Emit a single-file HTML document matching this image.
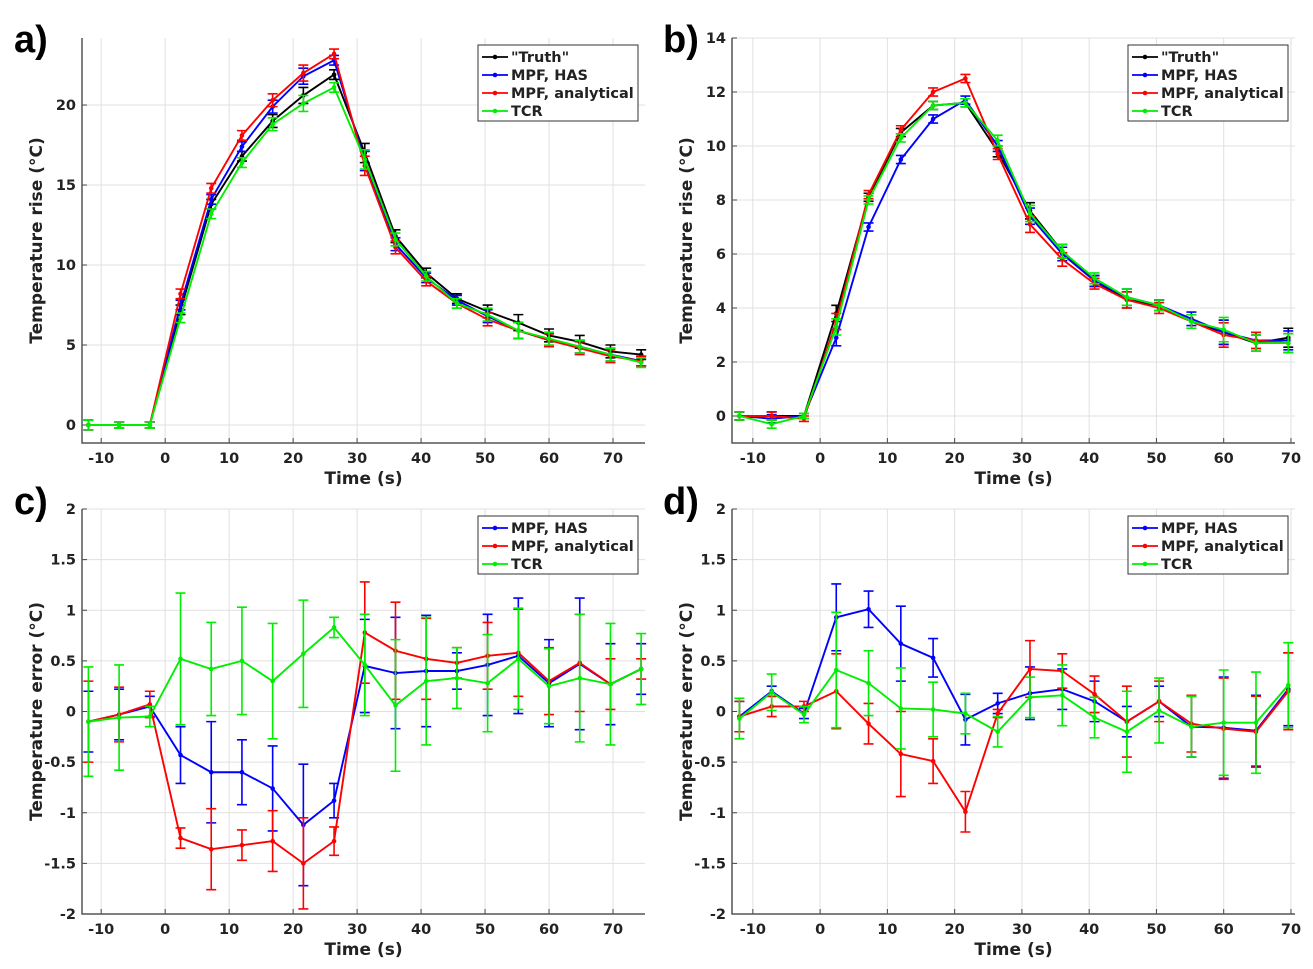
<!DOCTYPE html>
<html><head><meta charset="utf-8"><style>
body{margin:0;background:#fff;}
svg{display:block;font-family:"DejaVu Sans","Liberation Sans",sans-serif;font-weight:bold;}
</style></head><body>
<svg id="fig" width="1313" height="969" xmlns="http://www.w3.org/2000/svg"></svg>
<script>
const tA = [-12,-7.2,-2.4,2.4,7.2,12,16.8,21.6,26.4,31.2,36,40.8,45.6,50.4,55.2,60,64.8,69.6,74.4];
const tB = [-12,-7.2,-2.4,2.4,7.2,12,16.8,21.6,26.4,31.2,36,40.8,45.6,50.4,55.2,60,64.8,69.6];
const xTicksA = [-10,0,10,20,30,40,50,60,70];
const yTicksA = [0,5,10,15,20];
const yTicksB = [0,2,4,6,8,10,12,14];
const yTicksC = [-2,-1.5,-1,-0.5,0,0.5,1,1.5,2];
const yLabelsC = ["-2","-1.5","-1","-0.5","0","0.5","1","1.5","2"];

const aTruth = [0,0,0,7.2,13.8,16.8,19.0,20.6,21.9,17.0,11.8,9.5,7.9,7.1,6.4,5.6,5.2,4.6,4.4];
const aHAS   = [0,0,0,7.5,14.1,17.4,19.9,21.8,22.8,16.5,11.3,9.2,7.8,6.8,5.9,5.3,4.9,4.4,4.0];
const aAna   = [0,0,0,8.2,14.8,18.1,20.3,22.0,23.2,16.2,11.1,9.0,7.6,6.6,5.9,5.3,4.8,4.3,4.0];
const aTCR   = [0,0,0,6.7,13.2,16.4,18.8,20.1,21.1,16.6,11.6,9.3,7.6,6.9,5.9,5.4,4.9,4.4,3.9];
const aErr   = [0.3,0.2,0.2,0.3,0.3,0.3,0.4,0.5,0.3,0.6,0.4,0.3,0.3,0.4,0.5,0.4,0.4,0.4,0.3];

const bTruth = [0,0,0,3.8,8.1,10.5,11.5,11.6,9.8,7.6,6.1,5.0,4.3,4.1,3.5,3.1,2.7,2.9];
const bHAS   = [0,-0.1,0,2.9,7.0,9.5,11.0,11.7,10.0,7.4,6.0,5.0,4.4,4.1,3.6,3.1,2.8,2.8];
const bAna   = [0,0,-0.1,3.5,8.2,10.6,12.0,12.5,9.7,7.1,5.8,4.9,4.3,4.0,3.5,3.0,2.8,2.7];
const bTCR   = [0,-0.3,0,3.3,8.0,10.3,11.5,11.6,10.2,7.5,6.1,5.1,4.4,4.1,3.5,3.2,2.7,2.7];
const bErr   = [0.15,0.15,0.1,0.3,0.15,0.15,0.15,0.15,0.2,0.3,0.25,0.2,0.3,0.2,0.25,0.45,0.3,0.35];

const cHAS = [-0.1,-0.03,0.05,-0.43,-0.6,-0.6,-0.76,-1.12,-0.88,0.45,0.38,0.4,0.4,0.46,0.55,0.28,0.47,0.27,0.42];
const cHASe = [0.3,0.25,0.1,0.28,0.5,0.32,0.42,0.6,0.17,0.46,0.55,0.55,0.18,0.5,0.57,0.43,0.65,0.4,0.25];
const cAna = [-0.1,-0.03,0.07,-1.25,-1.36,-1.32,-1.28,-1.5,-1.28,0.78,0.6,0.52,0.48,0.55,0.58,0.3,0.48,0.27,0.42];
const cAnae = [0.4,0.27,0.13,0.1,0.4,0.15,0.3,0.45,0.14,0.5,0.48,0.4,0.15,0.33,0.43,0.33,0.48,0.25,0.1];
const cTCR = [-0.1,-0.06,-0.05,0.52,0.42,0.5,0.3,0.57,0.83,0.46,0.06,0.3,0.33,0.28,0.52,0.25,0.33,0.27,0.42];
const cTCRe = [0.54,0.52,0.1,0.65,0.46,0.53,0.57,0.53,0.1,0.5,0.65,0.63,0.3,0.48,0.5,0.37,0.63,0.6,0.35];

const dHAS = [-0.05,0.2,-0.02,0.93,1.01,0.67,0.53,-0.08,0.08,0.18,0.22,0.1,-0.1,0.1,-0.15,-0.16,-0.19,0.22];
const dHASe = [0.15,0.05,0.05,0.33,0.18,0.37,0.19,0.25,0.1,0.26,0.2,0.2,0.15,0.15,0.3,0.5,0.35,0.36];
const dAna = [-0.05,0.05,0.05,0.2,-0.12,-0.42,-0.49,-0.99,-0.02,0.42,0.4,0.17,-0.1,0.1,-0.12,-0.17,-0.2,0.2];
const dAnae = [0.15,0.1,0.05,0.37,0.2,0.42,0.22,0.2,0.04,0.28,0.17,0.18,0.35,0.2,0.28,0.5,0.35,0.38];
const dTCR = [-0.07,0.19,-0.03,0.41,0.28,0.03,0.02,-0.02,-0.2,0.14,0.16,-0.06,-0.2,0.01,-0.15,-0.11,-0.11,0.26];
const dTCRe = [0.2,0.18,0.08,0.57,0.32,0.4,0.27,0.2,0.15,0.2,0.3,0.2,0.4,0.32,0.3,0.52,0.5,0.42];

const NS="http://www.w3.org/2000/svg";
const svg=document.getElementById('fig');
function mk(tag,attrs,parent,text){const e=document.createElementNS(NS,tag);for(const k in attrs)e.setAttribute(k,attrs[k]);if(text!==undefined)e.textContent=text;(parent||svg).appendChild(e);return e;}

function panel(o){
  const g=mk('g',{});
  
  
  const sx=v=>o.x0+(v-o.xmin)/(o.xmax-o.xmin)*(o.x1-o.x0);
  const sy=v=>o.y1-(v-o.ymin)/(o.ymax-o.ymin)*(o.y1-o.y0);
  xTicksA.forEach(t=>{const x=sx(t);if(x<o.x0||x>o.x1)return;
    const l=mk('line',{x1:x,x2:x,y1:o.y0,y2:o.y1,stroke:'#e0e0e0','stroke-width':1},g);
    
    mk('line',{x1:x,x2:x,y1:o.y1,y2:o.y1-5,stroke:'#444'},g);
    const tx=mk('text',{x:x,y:o.y1+20,'text-anchor':'middle','font-size':14.5,fill:'#222'},g,String(t));
    
  });
  o.yt.forEach((t,i)=>{const y=sy(t);
    const l=mk('line',{x1:o.x0,x2:o.x1,y1:y,y2:y,stroke:'#e0e0e0','stroke-width':1},g);
    
    mk('line',{x1:o.x0,x2:o.x0+5,y1:y,y2:y,stroke:'#444'},g);
    const tx=mk('text',{x:o.x0-6,y:y+5,'text-anchor':'end','font-size':14.5,fill:'#222'},g,o.yl?o.yl[i]:String(t));
    
  });
  const ax=mk('path',{d:`M${o.x0},${o.y0}V${o.y1}H${o.x1}`,fill:'none',stroke:'#555','stroke-width':1.5},g);
  
  const xl=mk('text',{x:(o.x0+o.x1)/2,y:o.y1+41,'text-anchor':'middle','font-size':17,fill:'#222'},g,'Time (s)');
  
  const cy=(o.y0+o.y1)/2, yx=o.x0-40;
  const yl=mk('text',{x:yx,y:cy,'text-anchor':'middle','font-size':17,fill:'#222',transform:`rotate(-90 ${yx} ${cy})`},g,o.ylabel);
  
  const lt=mk('text',{x:o.lx,y:o.ly,'font-size':38,fill:'#000','font-family':'Liberation Sans, sans-serif'},g,o.id+')');
  
  o.series.forEach(s=>{
    const sg=mk('g',{},g);
    
    
    s.v.forEach((v,i)=>{const x=sx(o.t[i]),e=s.e[i];
      const eb=mk('path',{d:`M${x},${sy(v-e)}V${sy(v+e)}M${x-5},${sy(v-e)}h10M${x-5},${sy(v+e)}h10`,stroke:s.c,'stroke-width':1.6,fill:'none'},sg);
      
    });
    const pl=mk('polyline',{points:s.v.map((v,i)=>sx(o.t[i])+','+sy(v)).join(' '),fill:'none',stroke:s.c,'stroke-width':1.9},sg);
    
    s.v.forEach((v,i)=>{const m=mk('circle',{cx:sx(o.t[i]),cy:sy(v),r:2.3,fill:s.c},sg);
      });
  });
  const n=o.series.length, lw=160, lh=18*n+4;
  const lg=mk('g',{},g);
  
  mk('rect',{x:o.x1-lw-7,y:o.y0+7,width:lw,height:lh,fill:'#fff',stroke:'#333','stroke-width':1},lg);
  o.series.forEach((s,i)=>{const y=o.y0+7+12+18*i;const lx=o.x1-lw-3;
    const le=mk('g',{},lg);
    mk('line',{x1:lx,x2:lx+26,y1:y,y2:y,stroke:s.c,'stroke-width':1.8},le);
    mk('circle',{cx:lx+13,cy:y,r:2.3,fill:s.c},le);
    mk('text',{x:lx+29,y:y+5,'font-size':14.5,fill:'#222'},le,s.name);});
}
const A={x0:82,x1:645,xmin:-13,xmax:75};
const B={x0:732,x1:1295,xmin:-13.1,xmax:70.6};
panel(Object.assign({id:'a',y0:38,y1:443,ymin:-1.125,ymax:24.19,yt:yTicksA,t:tA,ylabel:'Temperature rise (°C)',lx:14,ly:52,
 series:[{name:'"Truth"',c:'#000',v:aTruth,e:aErr},{name:'MPF, HAS',c:'#0000ff',v:aHAS,e:aErr},{name:'MPF, analytical',c:'#ff0000',v:aAna,e:aErr},{name:'TCR',c:'#00ee00',v:aTCR,e:aErr}]},A));
panel(Object.assign({id:'b',y0:38,y1:443,ymin:-1,ymax:14,yt:yTicksB,t:tB,ylabel:'Temperature rise (°C)',lx:663,ly:52,
 series:[{name:'"Truth"',c:'#000',v:bTruth,e:bErr},{name:'MPF, HAS',c:'#0000ff',v:bHAS,e:bErr},{name:'MPF, analytical',c:'#ff0000',v:bAna,e:bErr},{name:'TCR',c:'#00ee00',v:bTCR,e:bErr}]},B));
panel(Object.assign({id:'c',y0:509,y1:914,ymin:-2,ymax:2,yt:yTicksC,yl:yLabelsC,t:tA,ylabel:'Temperature error (°C)',lx:14,ly:514,
 series:[{name:'MPF, HAS',c:'#0000ff',v:cHAS,e:cHASe},{name:'MPF, analytical',c:'#ff0000',v:cAna,e:cAnae},{name:'TCR',c:'#00ee00',v:cTCR,e:cTCRe}]},A));
panel(Object.assign({id:'d',y0:509,y1:914,ymin:-2,ymax:2,yt:yTicksC,yl:yLabelsC,t:tB,ylabel:'Temperature error (°C)',lx:663,ly:514,
 series:[{name:'MPF, HAS',c:'#0000ff',v:dHAS,e:dHASe},{name:'MPF, analytical',c:'#ff0000',v:dAna,e:dAnae},{name:'TCR',c:'#00ee00',v:dTCR,e:dTCRe}]},B));
</script>
</body></html>
